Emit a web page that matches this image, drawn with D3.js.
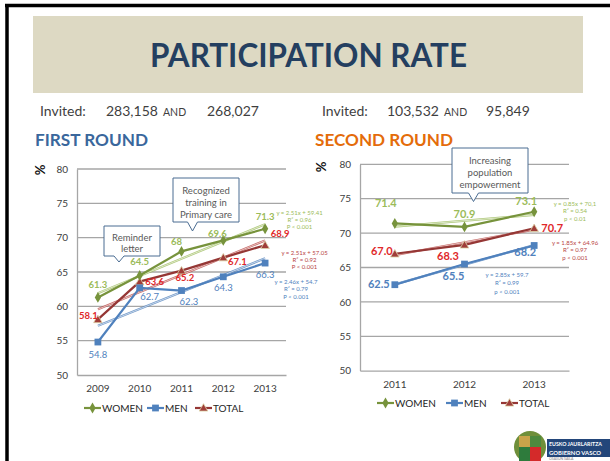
<!DOCTYPE html>
<html>
<head>
<meta charset="utf-8">
<script src="https://cdn.jsdelivr.net/npm/d3@7"></script>
<style>
  body { margin: 0; background: #fff; }
  svg { display: block; font-family: Lato, "Open Sans", sans-serif; }
</style>
</head>
<body>
<svg id="slide" width="610" height="461"></svg>
<script>
// ---- data ----
const seriesNames = ["WOMEN", "MEN", "TOTAL"]
const yTicks = [50, 55, 60, 65, 70, 75, 80]

const firstYears = ["2009", "2010", "2011", "2012", "2013"]
const firstWomen = [61.3, 64.5, 68, 69.6, 71.3]
const firstMen = [54.8, 62.7, 62.3, 64.3, 66.3]
const firstTotal = [58.1, 63.6, 65.2, 67.1, 68.9]
const firstSlopes = [2.51, 2.46, 2.51]
const firstIntercepts = [59.41, 54.7, 57.05]
const firstFitText = [
    ["y = 2.51x + 59.41", "R² = 0.96", "P < 0.001"],
    ["y = 2.46x + 54.7", "R² = 0.79", "P < 0.001"],
    ["y = 2.51x + 57.05", "R² = 0.92", "P < 0.001"]
]

const secondYears = ["2011", "2012", "2013"]
const secondWomen = [71.4, 70.9, 73.1]
const secondMen = [62.5, 65.5, 68.2]
const secondTotal = [67.0, 68.3, 70.7]
const secondSlopes = [0.85, 2.85, 1.85]
const secondIntercepts = [70.1, 59.7, 64.96]
const secondFitText = [
    ["y = 0.85x + 70,1", "R² = 0.54", "p < 0.01"],
    ["y = 2.85x + 59.7", "R² = 0.99", "p < 0.001"],
    ["y = 1.85x + 64.96", "R² = 0.97", "p < 0.001"]
]

// ---- styling ----
const lineColors = ["#77933C", "#4F81BD", "#953735"]
const trendColors = ["#9BBB59", "#4F81BD", "#B8433F"]
const labelColors = ["#9BBB59", "#4F81BD", "#E0282A"]
const symbols = [d3.symbolDiamond, d3.symbolSquare, d3.symbolTriangle]
const symbolSizes = [34, 46, 32]

const svg = d3.select("#slide")

// slide frame
svg.append("line").attr("x1", 5).attr("x2", 610).attr("y1", 5.5).attr("y2", 5.5)
    .attr("stroke", "#000").attr("stroke-width", 3.5)
svg.append("line").attr("x1", 7).attr("x2", 7).attr("y1", 4).attr("y2", 461)
    .attr("stroke", "#000").attr("stroke-width", 3.5)

// title band
svg.append("rect").attr("x", 33).attr("y", 16).attr("width", 550).attr("height", 77)
    .attr("fill", "#DDD9C3")
svg.append("text").attr("x", 150).attr("y", 66.5)
    .attr("textLength", 317).attr("lengthAdjust", "spacingAndGlyphs")
    .attr("font-size", 32).attr("font-weight", 700).attr("fill", "#243F60")
    .text("PARTICIPATION RATE")

// invited lines
function invited(x, parts) {
    const g = svg.append("g").attr("fill", "#3F3F3F")
    g.append("text").attr("x", x[0]).attr("y", 116).attr("font-size", 14).text("Invited:")
    g.append("text").attr("x", x[1]).attr("y", 116).attr("font-size", 14).text(parts[0])
    g.append("text").attr("x", x[2]).attr("y", 116).attr("font-size", 10.5).text("AND")
    g.append("text").attr("x", x[3]).attr("y", 116).attr("font-size", 14).text(parts[1])
}
invited([40, 106, 163, 207], ["283,158", "268,027"])
invited([322, 387, 444, 486], ["103,532", "95,849"])

svg.append("text").attr("x", 35).attr("y", 145.5).attr("font-size", 17).attr("font-weight", 700)
    .attr("fill", "#3A679C").attr("textLength", 113).attr("lengthAdjust", "spacingAndGlyphs")
    .text("FIRST ROUND")
svg.append("text").attr("x", 315).attr("y", 145.5).attr("font-size", 17).attr("font-weight", 700)
    .attr("fill", "#E46C0A").attr("textLength", 138).attr("lengthAdjust", "spacingAndGlyphs")
    .text("SECOND ROUND")

// callout bubbles
function callout(box, tip, lines, lineY, cx) {
    const [x0, y0, x1, y1] = box
    const p = d3.path()
    p.moveTo(x0, y0); p.lineTo(x1, y0); p.lineTo(x1, y1)
    p.lineTo(tip[0] + 5, y1); p.lineTo(tip[0], tip[1]); p.lineTo(tip[0] - 5, y1)
    p.lineTo(x0, y1); p.closePath()
    svg.append("path").attr("d", p.toString()).attr("fill", "#fff")
        .attr("stroke", "#4A6C92").attr("stroke-width", 1)
    lines.forEach((t, i) => {
        svg.append("text").attr("x", cx).attr("y", lineY[i]).attr("text-anchor", "middle")
            .attr("font-size", 9.5).attr("fill", "#595959").text(t)
    })
}

function drawChart(opt) {
    const x = d3.scaleBand().domain(opt.years).range([opt.left, opt.right])
    const y = d3.scaleLinear().domain([50, 80]).range([opt.bottom, opt.top])
    const cx = (d, i) => x(opt.years[i]) + x.bandwidth() / 2
    const g = svg.append("g")

    // gridlines
    g.selectAll("line.grid").data(yTicks.slice(1)).join("line")
        .attr("class", "grid")
        .attr("x1", opt.left).attr("x2", opt.right)
        .attr("y1", d => y(d)).attr("y2", d => y(d))
        .attr("stroke", "#A6A6A6").attr("stroke-width", 1.3)

    const yAxis = g.append("g").attr("transform", `translate(${opt.left},0)`)
        .call(d3.axisLeft(y).tickValues(yTicks).tickSize(0).tickPadding(9))
    yAxis.select(".domain").attr("stroke", "#A6A6A6").attr("stroke-width", 1.3)
    yAxis.selectAll("text").attr("font-size", 10).attr("fill", "#404040")
        .attr("font-family", "Lato, sans-serif")

    const xAxis = g.append("g").attr("transform", `translate(0,${opt.bottom})`)
        .call(d3.axisBottom(x).tickSize(0).tickPadding(10))
    xAxis.select(".domain").attr("stroke", "#A6A6A6").attr("stroke-width", 1.3)
    xAxis.selectAll("text").attr("font-size", 10).attr("fill", "#404040")
        .attr("font-family", "Lato, sans-serif")

    g.append("text").attr("transform", `translate(${opt.pctX},${opt.pctY}) rotate(-90)`)
        .attr("text-anchor", "middle").attr("dy", "0.35em")
        .attr("font-size", 13).attr("font-weight", 700).attr("fill", "#111").text("%")

    // trendlines (index 1..n)
    opt.series.forEach((vals, s) => {
        const n = vals.length
        const ends = [0, n - 1].map(i => [cx(null, i), y(opt.slopes[s] * (i + 1) + opt.intercepts[s])])
        const tl = g.append("g")
        tl.append("line").attr("x1", ends[0][0]).attr("y1", ends[0][1])
            .attr("x2", ends[1][0]).attr("y2", ends[1][1])
            .attr("stroke", trendColors[s]).attr("stroke-width", 2.2).attr("opacity", 0.8)
        tl.append("line").attr("x1", ends[0][0]).attr("y1", ends[0][1])
            .attr("x2", ends[1][0]).attr("y2", ends[1][1])
            .attr("stroke", "#fff").attr("stroke-width", 0.7).attr("opacity", 0.85)
    })

    // series lines + markers
    const line = d3.line().x(cx).y(d => y(d))
    const order = [2, 1, 0]
    order.forEach(s => {
        const vals = opt.series[s]
        g.append("path").attr("d", line(vals)).attr("fill", "none")
            .attr("stroke", lineColors[s]).attr("stroke-width", 2.2)
        g.selectAll(null).data(vals).join("path")
            .attr("transform", (d, i) => `translate(${cx(d, i)},${y(d) + (s === 2 ? 0.8 : 0)})`)
            .attr("d", d3.symbol().type(symbols[s]).size(symbolSizes[s]))
            .attr("fill", s === 2 ? "#A03D39" : lineColors[s])
            .attr("stroke", s === 2 ? "#DCD3A8" : "none").attr("stroke-width", 0.8)
    })

    // data labels
    opt.series.forEach((vals, s) => {
        g.selectAll(null).data(vals).join("text")
            .attr("x", (d, i) => cx(d, i) + opt.labelOffsets[s][i][0])
            .attr("y", (d, i) => y(d) + opt.labelOffsets[s][i][1])
            .attr("text-anchor", "middle")
            .attr("font-size", opt.labelSize)
            .attr("font-weight", opt.labelWeights[s])
            .attr("fill", labelColors[s])
            .text(opt.fmt)
    })

    // regression text
    opt.fitText.forEach((lines, s) => {
        lines.forEach((t, k) => {
            g.append("text").attr("x", opt.fitPos[s][0]).attr("y", opt.fitPos[s][1] + k * opt.fitStep[s])
                .attr("text-anchor", "middle").attr("font-size", 6)
                .attr("fill", trendColors[s]).text(t)
        })
    })

    // legend
    seriesNames.forEach((name, s) => {
        const lx = opt.legendX[s], ly = opt.legendY
        g.append("line").attr("x1", lx).attr("x2", lx + 17).attr("y1", ly).attr("y2", ly)
            .attr("stroke", lineColors[s]).attr("stroke-width", 2.2)
        g.append("path").attr("transform", `translate(${lx + 8.5},${ly + (s === 2 ? 0.6 : 0)})`)
            .attr("d", d3.symbol().type(symbols[s]).size(symbolSizes[s]))
            .attr("fill", s === 2 ? "#A03D39" : lineColors[s])
            .attr("stroke", s === 2 ? "#DCD3A8" : "none").attr("stroke-width", 0.8)
        g.append("text").attr("x", lx + 18).attr("y", ly).attr("dy", "0.35em")
            .attr("font-size", 10).attr("fill", "#262626").text(name)
    })
}

drawChart({
    years: firstYears,
    series: [firstWomen, firstMen, firstTotal],
    slopes: firstSlopes, intercepts: firstIntercepts, fitText: firstFitText,
    left: 77, right: 286, top: 169, bottom: 375,
    pctX: 40, pctY: 170,
    fmt: d => String(d),
    labelSize: 9.5,
    labelWeights: [700, 400, 700],
    labelOffsets: [
        [[0, -9.5], [0, -10], [-5, -6], [-6, -3], [0, -9]],
        [[0, 16], [10, 12], [7.5, 14], [0, 14.5], [0, 15]],
        [[-9.5, -0.5], [15, 3], [3.5, 10.5], [14, 7], [15, -8]]
    ],
    fitPos: [[299.5, 214.5], [296, 284], [304.5, 254.5]],
    fitStep: [7.3, 7.3, 7.3],
    legendX: [84, 147, 195], legendY: 408
})

drawChart({
    years: secondYears,
    series: [secondWomen, secondMen, secondTotal],
    slopes: secondSlopes, intercepts: secondIntercepts, fitText: secondFitText,
    left: 360, right: 569, top: 164.3, bottom: 370.7,
    pctX: 321, pctY: 167,
    fmt: d3.format(".1f"),
    labelSize: 11,
    labelWeights: [700, 700, 700],
    labelOffsets: [
        [[-9, -16], [0, -8.5], [-8, -6.5]],
        [[-16, 3], [-11, 15.5], [-9, 11]],
        [[-13, 1], [-16.5, 15.5], [18, 3.6]]
    ],
    fitPos: [[575, 205.5], [507, 277.2], [575, 244.5]],
    fitStep: [7.5, 8.2, 7.5],
    legendX: [377, 446, 501], legendY: 403
})

callout([104, 226, 160, 256], [119, 262], ["Reminder", "letter"], [240.5, 252], 132)
callout([173, 178, 239, 222], [192.5, 231], ["Recognized", "training in", "Primary care"], [194, 205.7, 217.5], 206)
callout([452, 148, 528, 193], [473.5, 201.5], ["Increasing", "population", "empowerment"], [163.5, 175.8, 187.8], 490)

// logo (Basque Government)
const logo = svg.append("g")
logo.append("circle").attr("cx", 530).attr("cy", 447).attr("r", 16).attr("fill", "#6F8F3A")
logo.append("rect").attr("x", 519).attr("y", 436).attr("width", 11).attr("height", 11).attr("fill", "#C9A44A")
logo.append("rect").attr("x", 530).attr("y", 436).attr("width", 11).attr("height", 11).attr("fill", "#4E8A3E")
logo.append("rect").attr("x", 519).attr("y", 447).attr("width", 11).attr("height", 14).attr("fill", "#2E7B3C")
logo.append("rect").attr("x", 530).attr("y", 447).attr("width", 11).attr("height", 14).attr("fill", "#D42A2A")
logo.append("rect").attr("x", 547).attr("y", 439).attr("width", 63).attr("height", 18).attr("fill", "#23467A")
logo.append("text").attr("x", 549).attr("y", 446.2).attr("font-size", 5.6).attr("font-weight", 700)
    .attr("textLength", 53).attr("lengthAdjust", "spacingAndGlyphs")
    .attr("fill", "#fff").text("EUSKO JAURLARITZA")
logo.append("text").attr("x", 549).attr("y", 454.5).attr("font-size", 5.6).attr("font-weight", 700)
    .attr("textLength", 52).attr("lengthAdjust", "spacingAndGlyphs")
    .attr("fill", "#fff").text("GOBIERNO VASCO")
logo.append("text").attr("x", 549).attr("y", 460).attr("font-size", 3.5)
    .attr("fill", "#777").text("OSASUN SAILA")
</script>
</body>
</html>
